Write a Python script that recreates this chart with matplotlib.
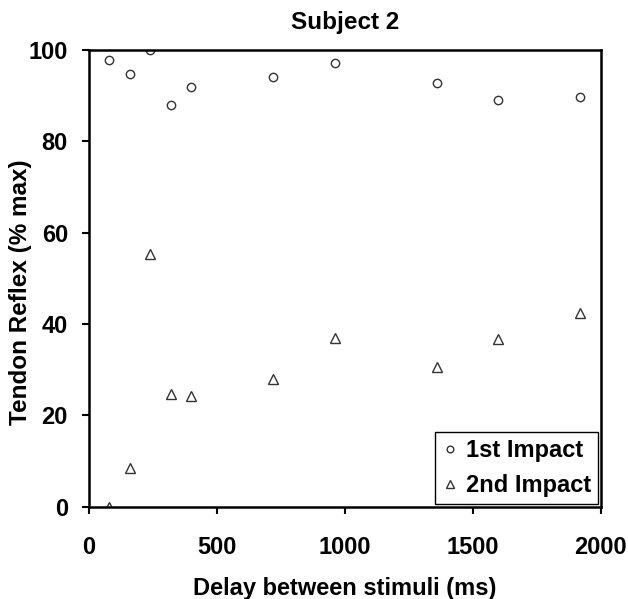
import matplotlib
matplotlib.use("Agg")
import matplotlib.pyplot as plt

plt.rcParams['font.family'] = ['Liberation Sans', 'DejaVu Sans']
plt.rcParams['font.weight'] = 'bold'

delay = [80, 160, 240, 320, 400, 720, 960, 1360, 1600, 1920]
first_impact = [97.8, 94.8, 100.0, 87.9, 91.9, 94.0, 97.1, 92.8, 89.0, 89.8]
second_impact = [0.0, 8.4, 55.4, 24.7, 24.2, 27.9, 36.9, 30.6, 36.6, 42.5]

fig = plt.figure(figsize=(6.28, 5.99), dpi=100)
ax = fig.add_axes([0.1414, 0.1544, 0.8153, 0.762])

ax.plot(delay, first_impact, linestyle="none", marker="o", markersize=6,
        markerfacecolor="white", markeredgecolor="#333333", markeredgewidth=1.0,
        label="1st Impact")
ax.plot(delay, second_impact, linestyle="none", marker="^", markersize=7.5,
        markerfacecolor="white", markeredgecolor="#333333", markeredgewidth=1.0,
        label="2nd Impact")

ax.set_xlim(0, 2000)
ax.set_ylim(0, 100)
ax.set_xticks([0, 500, 1000, 1500, 2000])
ax.set_yticks([0, 20, 40, 60, 80, 100])

for s in ax.spines.values():
    s.set_linewidth(1.8)

ax.tick_params(axis="both", direction="out", length=5, width=1.5, labelsize=17)
ax.tick_params(axis="x", pad=16)
ax.tick_params(axis="y", pad=10)

ax.set_xlabel("Delay between stimuli (ms)", fontsize=17, fontweight="bold", labelpad=13)
ax.set_ylabel("Tendon Reflex (% max)", fontsize=17.5, fontweight="bold")
ax.yaxis.set_label_coords(-0.111, 0.47)
ax.set_title("Subject 2", fontsize=17.5, fontweight="bold", pad=15)

leg = ax.legend(loc="lower right", fontsize=17, markerscale=0.8, handlelength=0.68,
                handletextpad=0.34, borderpad=0.3, labelspacing=0.5,
                fancybox=False, framealpha=1, borderaxespad=0.1)
leg.get_frame().set_edgecolor("black")
leg.get_frame().set_linewidth(1.0)
for t in leg.get_texts():
    t.set_fontweight("bold")

fig.savefig("out.png", dpi=100)
